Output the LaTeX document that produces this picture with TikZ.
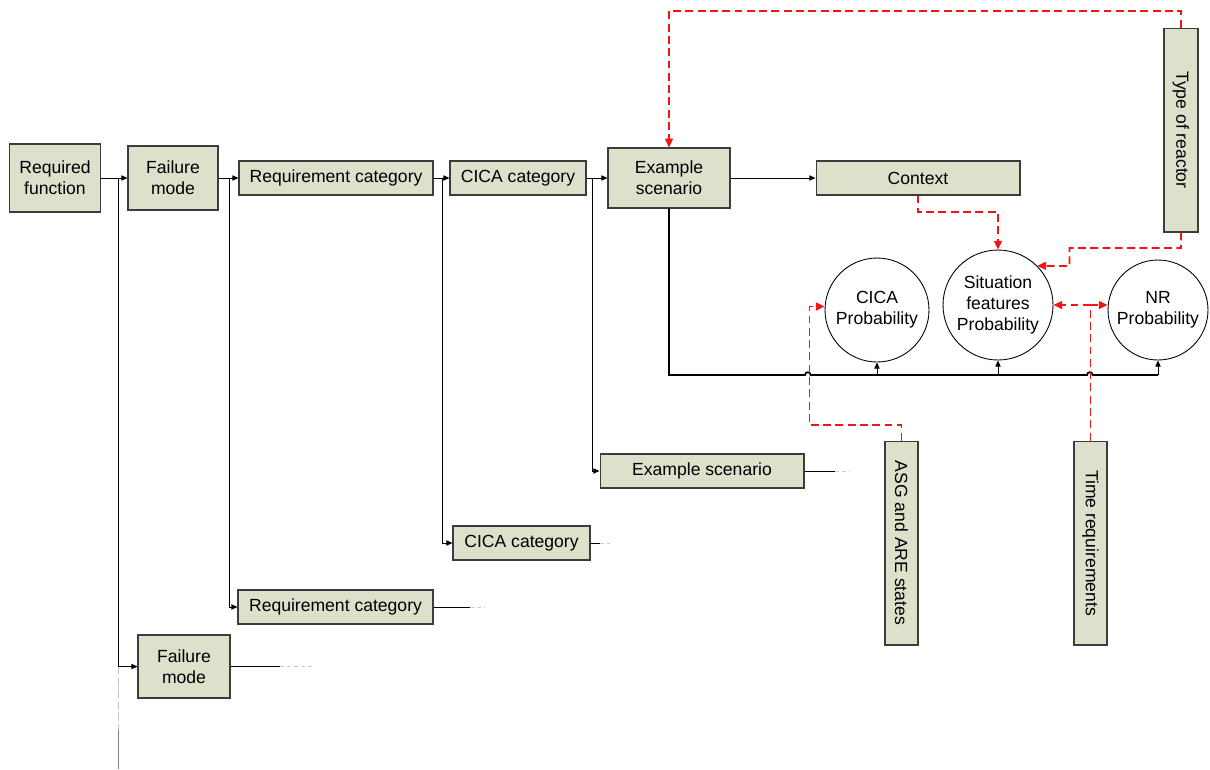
\documentclass[tikz,border=0pt]{standalone}
\usepackage{fontspec}
\setmainfont{Liberation Sans}
\usetikzlibrary{arrows.meta}

\definecolor{boxfill}{RGB}{221,224,203}
\definecolor{boxline}{RGB}{60,60,60}
\definecolor{linkred}{RGB}{245,20,20}

\begin{document}
\begin{tikzpicture}[x=0.02cm, y=-0.02cm,
    box/.style={draw=boxline, fill=boxfill, line width=0.6pt, align=center, inner sep=1pt},
    prob/.style={draw, circle, line width=0.5pt, align=center, inner sep=0pt},
    flow/.style={line width=0.55pt, -{Triangle[length=3.5pt,width=3pt]}},
    link/.style={color=linkred, line width=1pt, dash pattern=on 4.5pt off 2.5pt,
                 -{Triangle[length=5pt,width=4.5pt]}}]
  \useasboundingbox (0,0) rectangle (1210,769);

  % upper row
  \node[box, minimum width=1.82cm, minimum height=1.36cm] (rf) at (55,178) {Required\\function};
  \node[box, minimum width=1.8cm, minimum height=1.28cm] (fm) at (173,178) {Failure\\mode};
  \node[box, minimum width=3.88cm, minimum height=0.68cm] (rc) at (336,178) {Requirement category};
  \node[box, minimum width=2.72cm, minimum height=0.68cm] (cc) at (518,178) {CICA category};
  \node[box, minimum width=2.44cm, minimum height=1.2cm] (es) at (669,178) {Example\\scenario};
  \node[box, minimum width=4.08cm, minimum height=0.68cm] (ctx) at (918,178) {Context};
  \node[box, minimum width=0.68cm, minimum height=4.08cm] (tor) at (1181,130) {\rotatebox{-90}{Type of reactor}};

  % probabilities
  \node[prob, minimum size=2.08cm] (cp) at (877,310) {CICA\\Probability};
  \node[prob, minimum size=2.2cm] (sfp) at (998,305) {Situation\\features\\Probability};
  \node[prob, minimum size=2cm] (nrp) at (1158,310) {NR\\Probability};

  % lower boxes
  \node[box, minimum width=0.66cm, minimum height=4.08cm] (asg) at (901.5,543) {\rotatebox{-90}{ASG and ARE states}};
  \node[box, minimum width=0.66cm, minimum height=4.08cm] (tr) at (1090.5,543) {\rotatebox{-90}{Time requirements}};
  \node[box, minimum width=4.08cm, minimum height=0.68cm] (es2) at (702,471) {Example scenario};
  \node[box, minimum width=2.74cm, minimum height=0.68cm] (cc2) at (521.5,543) {CICA category};
  \node[box, minimum width=3.9cm, minimum height=0.68cm] (rc2) at (335.5,607) {Requirement category};
  \node[box, minimum width=1.84cm, minimum height=1.26cm] (fm2) at (184,666.5) {Failure\\mode};

  % main flow
  \draw[flow] (rf) -- (fm);
  \draw[flow] (fm) -- (rc);
  \draw[flow] (rc) -- (cc);
  \draw[flow] (cc) -- (es);
  \draw[flow] (es) -- (ctx);

  % branches
  \draw[line width=0.55pt] (118,178) -- (118,666.5);
  \draw[line width=0.55pt, gray!45, dash pattern=on 5pt off 1.5pt] (118,666.5) -- (118,730);
  \draw[line width=0.55pt, gray] (118,730) -- (118,769);
  \draw[flow] (118,666.5) -- (fm2.west);
  \draw[flow] (229,178) |- (rc2.west);
  \draw[flow] (442,178) |- (cc2.west);
  \draw[flow] (592,178) |- (es2.west);

  % loose ends
  \draw[line width=0.55pt] (fm2.east) -- ++(50,0);
  \draw[line width=0.55pt, gray!40, dash pattern=on 2pt off 2pt] (280,666.5) -- (315,666.5);
  \draw[line width=0.55pt] (rc2.east) -- ++(37,0);
  \draw[line width=0.55pt, gray!40, dash pattern=on 2pt off 2pt] (470,607) -- (485,607);
  \draw[line width=0.55pt] (cc2.east) -- ++(10,0);
  \draw[line width=0.55pt, gray!40, dash pattern=on 2pt off 2pt] (600,543) -- (610,543);
  \draw[line width=0.55pt] (es2.east) -- ++(31,0);
  \draw[line width=0.55pt, gray!40, dash pattern=on 2pt off 2pt] (835,471) -- (850,471);

  % bus to probabilities
  \coordinate (bus) at (669,375);
  \draw[line width=1pt] (es.south) -- (bus) -- (805,375)
    arc[start angle=180, end angle=0, radius=1.6pt] -- (1087,375)
    arc[start angle=180, end angle=0, radius=1.6pt] -- (1158,375);
  \draw[flow] (cp.south |- bus) -- (cp.south);
  \draw[flow] (sfp.south |- bus) -- (sfp.south);
  \draw[flow] (nrp.south |- bus) -- (nrp.south);

  % red links
  \draw[link] (tor.north) -- ++(0,-16.5) -| (es.north);
  \draw[link] (ctx.south) -- ++(0,16.5) -| (sfp.north);
  \draw[link] (tor.south) -- ++(0,15.5) -| (1069.5,266) -- (sfp.45);
  \draw[link] (asg.north) -- ++(0,-15.5) -| (809.5,306.5) -- (cp.west |- 0,306.5);
  \draw[link] (tr.north) |- (sfp.east);
  \draw[link] (tr.north) |- (nrp.west |- sfp.east);
\end{tikzpicture}
\end{document}
